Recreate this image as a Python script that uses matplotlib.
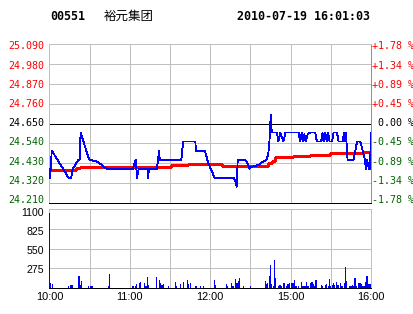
import numpy as np
import matplotlib.pyplot as plt

# ================ 基础设置 ================
STOCK_CODE = "00551"
STOCK_NAME = "裕元集团"
TIME_STR = "2010-07-19 16:01:03"
PREV_CLOSE = 24.650

# 颜色
COLOR_UP = "#ff0000"
COLOR_DOWN = "#006400"
COLOR_GRID = "#c0c0c0"
COLOR_PRICE = "#0000ff"
COLOR_AVG = "#ff0000"
COLOR_VOL = "#0000ff"

# 线宽 (关掉抗锯齿后, 小于 1px 的线按 1px 画)
THIN = 0.6

# ================ 坐标轴设置 ================
# 价格刻度 (从下到上)
PRICE_TICKS = [24.210, 24.320, 24.430, 24.540, 24.650, 24.760, 24.870, 24.980, 25.090]
PRICE_LABELS = ["24.210", "24.320", "24.430", "24.540", "24.650", "24.760", "24.870", "24.980", "25.090"]
PCT_LABELS = ["-1.78 %", "-1.34 %", "-0.89 %", "-0.45 %", " 0.00 %", "+0.45 %", "+0.89 %", "+1.34 %", "+1.78 %"]
# 成交量刻度
VOL_TICKS = [275, 550, 825, 1100]
VOL_LABELS = ["275", "550", "825", "1100"]
VOL_MAX = 1100
# 时间轴 (交易分钟)
TIME_TICKS = [0, 60, 120, 180, 240]
TIME_LABELS = ["10:00", "11:00", "12:00", "15:00", "16:00"]
TIME_GRID = [30, 60, 90, 120, 150, 180, 210]

# ================ 数据设置 ================
# 分时价格 (交易分钟, 价格)
PRICE_MIN = [0, 0.5, 1.7, 14.2, 16.2, 17.4, 21.7, 22.5, 23.2, 29.6,
             35, 37.4, 42.4, 62.3, 64.4, 65.3, 66.6, 73.1, 73.6, 74.3,
             80.1, 81.1, 81.8, 82.3, 98.4, 99.8, 108.9, 109.3, 116, 118.5,
             121, 123.1, 137.7, 139.2, 139.7, 140.5, 146, 147.2, 149.3, 150.8,
             155.9, 159.7, 162.2, 163.4, 164.1, 165.2, 165.9, 169.7, 170.9, 172.2,
             174.6, 176.2, 185.9, 187.1, 188.4, 189.6, 190.3, 191.4, 192.7, 194.6,
             198.4, 199.6, 202.8, 203.8, 204.6, 205.8, 207.0, 207.9, 209.1, 210.9,
             212.1, 214.6, 215.8, 218.8, 219.8, 220.8, 221.3, 222.1, 222.5, 227.0,
             228.3, 229.6, 232.0, 233.8, 235.4, 236.3, 237.1, 238.3, 239.2, 240]
PRICE = [24.40, 24.35, 24.50, 24.35, 24.35, 24.40, 24.45, 24.45, 24.60, 24.45,
         24.44, 24.43, 24.40, 24.40, 24.45, 24.35, 24.40, 24.40, 24.35, 24.40,
         24.40, 24.45, 24.50, 24.45, 24.45, 24.55, 24.55, 24.50, 24.50, 24.43,
         24.39, 24.35, 24.35, 24.32, 24.30, 24.45, 24.45, 24.44, 24.40, 24.41,
         24.42, 24.44, 24.45, 24.49, 24.54, 24.70, 24.60, 24.60, 24.55, 24.60,
         24.55, 24.60, 24.60, 24.55, 24.60, 24.55, 24.59, 24.55, 24.59, 24.60,
         24.60, 24.55, 24.55, 24.60, 24.55, 24.60, 24.55, 24.60, 24.55, 24.55,
         24.60, 24.60, 24.55, 24.55, 24.60, 24.55, 24.60, 24.50, 24.45, 24.45,
         24.50, 24.55, 24.55, 24.50, 24.45, 24.40, 24.45, 24.40, 24.40, 24.60]

# 均价线 (阶梯)
AVG_MIN = [0, 19.5, 22.5, 91, 103.5, 128.5, 163.4, 165.9, 168.4, 182.1, 194.6, 209.6, 220.8, 234.5, 240]
AVG_PRICE = [24.395, 24.405, 24.411, 24.418, 24.426, 24.414, 24.430, 24.444, 24.463,
             24.470, 24.476, 24.485, 24.488, 24.491, 24.491]

# 成交量 (交易分钟, 手)
VOL_MIN = [0, 1, 2, 14, 16, 17, 22, 23, 24, 29,
           31, 32, 44, 45, 62, 63, 64, 65, 67, 68,
           71, 72, 73, 74, 80, 82, 83, 84, 85, 89,
           94, 95, 98, 100, 103, 104, 105, 109, 110, 113,
           115, 123, 124, 132, 133, 136, 137, 139, 140, 141,
           142, 145, 150, 161, 162, 163, 164, 165, 166, 167,
           168, 169, 171, 172, 173, 175, 177, 178, 179, 181,
           182, 183, 184, 186, 188, 189, 190, 191, 192, 193,
           195, 196, 197, 198, 199, 203, 204, 206, 207, 208,
           209, 210, 211, 212, 213, 214, 215, 216, 217, 218,
           219, 220, 221, 222, 224, 225, 226, 227, 228, 229,
           231, 232, 233, 234, 235, 236, 237, 238, 239, 240]
VOL = [1040, 65, 50, 28, 42, 42, 167, 42, 97, 28,
       28, 28, 28, 195, 28, 28, 28, 56, 70, 84,
       70, 28, 153, 42, 153, 111, 70, 42, 56, 28,
       84, 28, 56, 84, 111, 56, 70, 28, 28, 28,
       28, 111, 42, 56, 28, 70, 28, 125, 70, 97,
       139, 28, 28, 97, 56, 70, 167, 320, 56, 28,
       390, 139, 28, 42, 28, 70, 28, 56, 70, 70,
       70, 111, 28, 28, 84, 28, 28, 28, 84, 28,
       70, 84, 56, 28, 111, 42, 28, 42, 56, 28,
       125, 28, 42, 70, 42, 84, 42, 42, 70, 28,
       28, 70, 292, 97, 28, 28, 42, 28, 139, 28,
       70, 70, 56, 28, 28, 84, 167, 56, 56, 56]

# 程序入口
if __name__ == '__main__':
    plt.rcParams['lines.antialiased'] = False
    plt.rcParams['patch.antialiased'] = False

    W, H = 414, 314
    fig = plt.figure(figsize=(W / 100, H / 100), dpi=100)
    fig.patch.set_facecolor("white")

    # 上: 分时图  下: 成交量
    left, right = 49.5, 371
    ax = fig.add_axes([left / W, (H - 203) / H, (right - left) / W, (203 - 44) / H])
    axv = fig.add_axes([left / W, (H - 288) / H, (right - left) / W, (288 - 209) / H])

    # 标题
    mono = "DejaVu Sans Mono"
    fig.text(50 / W, 1 - 16.5 / H, STOCK_CODE, family=mono, weight="bold", size=8.4, va="center", ha="left")
    fig.text(104 / W, 1 - 16 / H, STOCK_NAME, family=["Noto Sans CJK SC", "DejaVu Sans"], size=9,
             va="center", ha="left")
    fig.text(370.5 / W, 1 - 16.5 / H, TIME_STR, family=mono, weight="bold", size=8.4, va="center", ha="right")

    # ---------- 分时图 ----------
    ax.set_xlim(0, 240)
    ax.set_ylim(PRICE_TICKS[0], PRICE_TICKS[-1])
    ax.set_xticks(TIME_GRID)
    ax.set_yticks(PRICE_TICKS)
    ax.tick_params(length=0, labelbottom=False, labelleft=False)
    ax.grid(True, color=COLOR_GRID, linewidth=THIN)
    ax.set_axisbelow(True)
    for key in ['top', 'left']:
        ax.spines[key].set_color(COLOR_GRID)
    ax.spines['right'].set_color("#909090")
    ax.spines['bottom'].set_color("black")
    for key in ax.spines:
        ax.spines[key].set_linewidth(THIN)
    ax.axhline(PREV_CLOSE, color="black", linewidth=THIN, zorder=2)

    ax.plot(AVG_MIN, AVG_PRICE, color=COLOR_AVG, linewidth=0.85, drawstyle="steps-post", zorder=3)
    ax.plot(PRICE_MIN, PRICE, color=COLOR_PRICE, linewidth=THIN, zorder=4)

    # 价格 / 涨跌幅 标签
    n = len(PRICE_TICKS) - 1
    for i, (p, lbl, pct) in enumerate(zip(PRICE_TICKS, PRICE_LABELS, PCT_LABELS)):
        if abs(p - PREV_CLOSE) < 1e-6:
            c = "black"
        elif p > PREV_CLOSE:
            c = COLOR_UP
        else:
            c = COLOR_DOWN
        dy = (3 - 5.5 * i / n) * 0.72
        ax.annotate(lbl, xy=(0, p), xycoords=('axes fraction', 'data'), xytext=(-4, dy),
                    textcoords='offset points', ha="right", va="center", color=c,
                    family=mono, size=7.2, annotation_clip=False)
        ax.annotate(pct, xy=(1, p), xycoords=('axes fraction', 'data'), xytext=(0.4, dy),
                    textcoords='offset points', ha="left", va="center", color=c,
                    family=mono, size=7.2, annotation_clip=False)

    # ---------- 成交量 ----------
    axv.bar(VOL_MIN, VOL, width=0.9, color=COLOR_VOL, linewidth=0, zorder=3)
    axv.set_xlim(0, 240)
    axv.set_ylim(0, VOL_MAX)
    axv.set_xticks(TIME_GRID, minor=True)
    axv.set_xticks(TIME_TICKS)
    axv.set_xticklabels(TIME_LABELS, family="Liberation Sans", size=7.9)
    axv.set_yticks(VOL_TICKS)
    axv.tick_params(which="both", length=0, labelleft=False, pad=3.2)
    axv.grid(True, which="both", color=COLOR_GRID, linewidth=THIN)
    axv.set_axisbelow(True)
    for key in ['top', 'left', 'right']:
        axv.spines[key].set_color(COLOR_GRID)
    axv.spines['bottom'].set_color("black")
    for key in axv.spines:
        axv.spines[key].set_linewidth(THIN)

    for i, (v, lbl) in enumerate(zip(VOL_TICKS, VOL_LABELS)):
        dy = -(2 + 0.7 * i) * 0.72
        axv.annotate(lbl, xy=(0, v), xycoords=('axes fraction', 'data'), xytext=(-4, dy),
                     textcoords='offset points', ha="right", va="center", color="black",
                     family="Liberation Sans", size=7.6, annotation_clip=False)

    fig.savefig("out.png", dpi=100)
